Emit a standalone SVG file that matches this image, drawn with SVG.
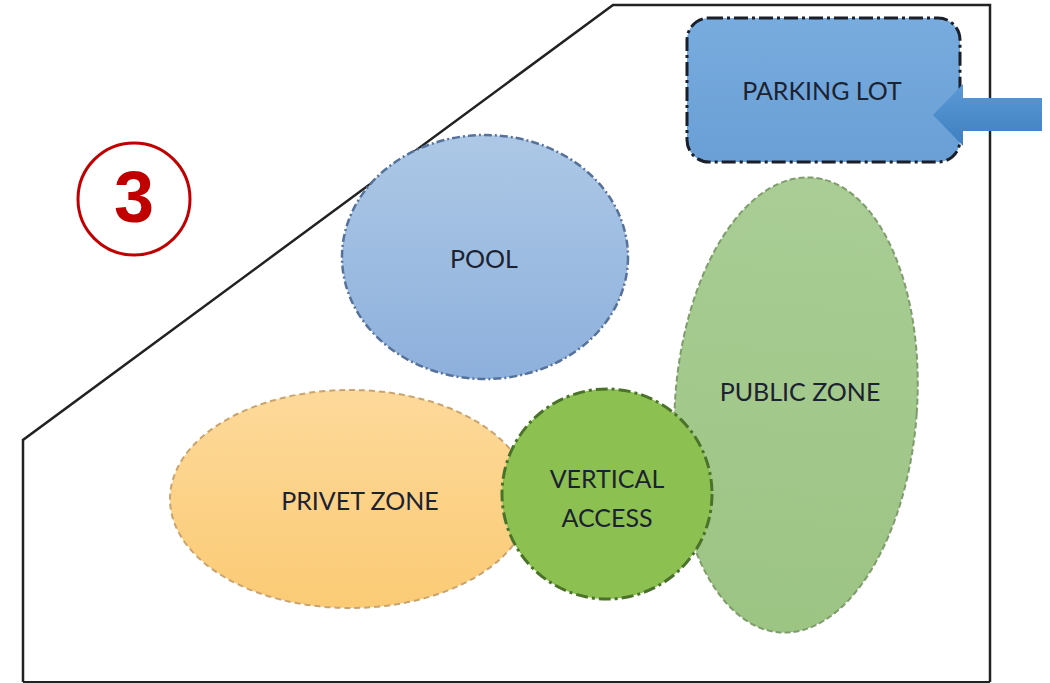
<svg xmlns="http://www.w3.org/2000/svg" width="1050" height="683" viewBox="0 0 1050 683">
<style>
.lbl{font-family:Lato,"Open Sans","Liberation Sans",sans-serif;font-size:25px;fill:#1c2230;text-anchor:middle}
</style>
<defs>
<linearGradient id="gPool" x1="0" y1="0" x2="0" y2="1"><stop offset="0" stop-color="#adc8e6"/><stop offset="1" stop-color="#8db0dc"/></linearGradient>
<linearGradient id="gPark" x1="0" y1="0" x2="0" y2="1"><stop offset="0" stop-color="#78acde"/><stop offset="1" stop-color="#6a9fd6"/></linearGradient>
<linearGradient id="gPub" x1="0" y1="0" x2="0" y2="1"><stop offset="0" stop-color="#a9cd95"/><stop offset="1" stop-color="#9cc483"/></linearGradient>
<linearGradient id="gPriv" x1="0" y1="0" x2="0" y2="1"><stop offset="0" stop-color="#fdd99a"/><stop offset="1" stop-color="#fbcb75"/></linearGradient>
<linearGradient id="gArrow" x1="0" y1="0" x2="0" y2="1"><stop offset="0" stop-color="#5b9ad6"/><stop offset="1" stop-color="#3f7fc0"/></linearGradient>
</defs>
<rect width="1050" height="683" fill="#ffffff"/>
<g id="site">
<polyline points="23,682 23,440 613,5 990,5 990,682" fill="none" stroke="#222" stroke-width="2.5"/>
<line x1="23" y1="682" x2="990" y2="682" stroke="#222" stroke-width="2"/>
</g>
<g id="pool">
<ellipse cx="485" cy="257" rx="143" ry="122" fill="url(#gPool)" stroke="#56729a" stroke-width="2.5" stroke-dasharray="8,3,2,3"/>
<text class="lbl" x="484" y="268">POOL</text>
</g>
<g id="privet-zone">
<ellipse cx="350" cy="499" rx="180" ry="109" fill="url(#gPriv)" stroke="#c8a470" stroke-width="2" stroke-dasharray="6,4"/>
<text class="lbl" x="360" y="510">PRIVET ZONE</text>
</g>
<g id="public-zone">
<ellipse cx="796" cy="405" rx="121" ry="228" transform="rotate(4 796 405)" fill="url(#gPub)" stroke="#7f9c6c" stroke-width="2" stroke-dasharray="6,3"/>
<text class="lbl" x="800" y="401">PUBLIC ZONE</text>
</g>
<g id="vertical-access">
<circle cx="607" cy="494" r="105" fill="#8cc152" stroke="#4a7229" stroke-width="3" stroke-dasharray="12,4,3,4"/>
<text class="lbl" x="607" y="488">VERTICAL</text>
<text class="lbl" x="607" y="527">ACCESS</text>
</g>
<g id="parking-lot">
<rect x="687" y="18" width="273" height="144" rx="22" fill="url(#gPark)" stroke="#1a1f2a" stroke-width="3" stroke-dasharray="14,4,3,4"/>
<text class="lbl" x="822" y="100">PARKING LOT</text>
</g>
<g id="connectors">
<polygon points="1042,98 963,98 963,84 933,115 963,146 963,131 1042,131" fill="url(#gArrow)"/>
</g>
<g id="badge">
<circle cx="134" cy="199" r="56" fill="none" stroke="#c00000" stroke-width="3"/>
<text x="134" y="222" font-family="'Liberation Sans',Arial,sans-serif" font-weight="bold" font-size="72" fill="#c00000" text-anchor="middle">3</text>
</g>
</svg>
